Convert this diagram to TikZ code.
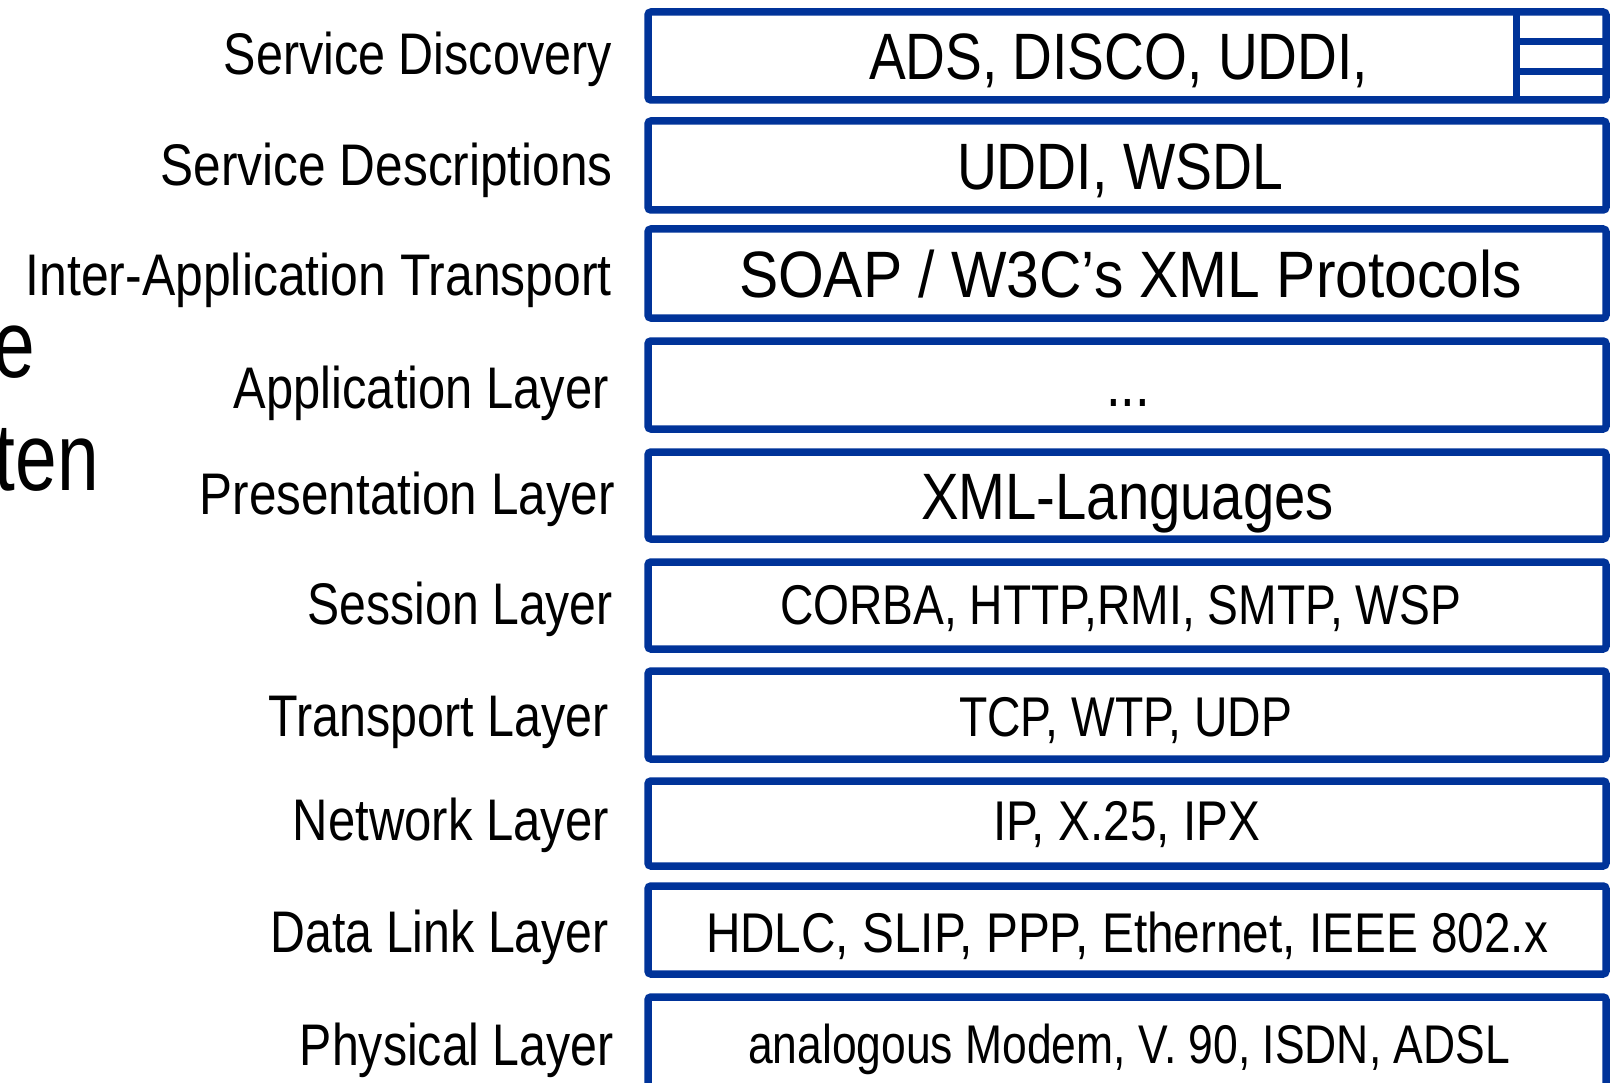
\documentclass[tikz,border=0pt]{standalone}
\usepackage{fontspec}
\setmainfont{Liberation Sans}
\usepackage{graphicx}
\definecolor{layerblue}{RGB}{0,51,153}
\newcommand{\fitw}[2]{\resizebox{#1pt}{\height}{#2}}
\tikzset{
  layerbox/.style={draw=layerblue, line width=7.5pt, rounded corners=3pt},
  divline/.style={draw=layerblue, line width=7pt},
  lbl/.style={anchor=base east, inner sep=0pt, font=\fontsize{58.7}{60}\selectfont},
  bigtxt/.style={anchor=base, inner sep=0pt, font=\fontsize{65.6}{68}\selectfont},
  smalltxt/.style={anchor=base, inner sep=0pt, font=\fontsize{56}{58}\selectfont},
  frag/.style={anchor=base east, inner sep=0pt, font=\fontsize{96}{98}\selectfont}
}
\begin{document}
\begin{tikzpicture}[x=1pt,y=-1pt]
\useasboundingbox (0,0) rectangle (1613,1083);
\clip (0,0) rectangle (1613,1083);
% boxes
\path[layerbox] (648,12) rectangle (1606,100);
\path[layerbox] (648,121) rectangle (1606,210);
\path[layerbox] (648,229) rectangle (1606,318);
\path[layerbox] (648,341) rectangle (1606,429);
\path[layerbox] (648,452) rectangle (1606,539);
\path[layerbox] (648,562) rectangle (1606,649);
\path[layerbox] (648,671) rectangle (1606,759);
\path[layerbox] (648,781) rectangle (1606,866);
\path[layerbox] (648,886) rectangle (1606,974);
\path[layerbox] (648,997) rectangle (1606,1120);
% divisions in first box
\coordinate (dt) at (1516.5,12);
\coordinate (db) at (1516.5,100);
\coordinate (h1a) at (1516.5,41.5);
\coordinate (h1b) at (1606,41.5);
\coordinate (h2a) at (1516.5,71.5);
\coordinate (h2b) at (1606,71.5);
\draw[divline] (dt) -- (db);
\draw[divline] (h1a) -- (h1b);
\draw[divline] (h2a) -- (h2b);
% left labels
\node[lbl] (l1) at (612,75) {\fitw{388}{Service Discovery}};
\node[lbl] (l2) at (613,186) {\fitw{452}{Service Descriptions}};
\node[lbl] (l3) at (612,295) {\fitw{586}{Inter-Application Transport}};
\node[lbl] (l4) at (609,408) {\fitw{375}{Application Layer}};
\node[lbl] (l5) at (615,514) {\fitw{415}{Presentation Layer}};
\node[lbl] (l6) at (613,624) {\fitw{305}{Session Layer}};
\node[lbl] (l7) at (609,736) {\fitw{340}{Transport Layer}};
\node[lbl] (l8) at (609,840) {\fitw{316}{Network Layer}};
\node[lbl] (l9) at (609,952) {\fitw{338}{Data Link Layer}};
\node[lbl] (l10) at (614,1065) {\fitw{314}{Physical Layer}};
% box texts
\node[bigtxt] (t1) at (1118.5,80) {\fitw{499}{ADS, DISCO, UDDI,}};
\node[bigtxt] (t2) at (1120,190) {\fitw{326}{UDDI, WSDL}};
\node[bigtxt] (t3) at (1130.5,298) {\fitw{783}{SOAP / W3C’s XML Protocols}};
\node[bigtxt] (t4) at (1128,406) {\fitw{44}{...}};
\node[bigtxt] (t5) at (1127.5,519) {\fitw{413}{XML-Languages}};
\node[smalltxt] (t6) at (1120.5,624) {\fitw{681}{CORBA, HTTP,RMI, SMTP, WSP}};
\node[smalltxt] (t7) at (1125.5,736) {\fitw{333}{TCP, WTP, UDP}};
\node[smalltxt] (t8) at (1126.5,840) {\fitw{267}{IP, X.25, IPX}};
\node[smalltxt] (t9) at (1127,952) {\fitw{842}{HDLC, SLIP, PPP, Ethernet, IEEE 802.x}};
\node[smalltxt, font=\fontsize{54.5}{56}\selectfont] (t10) at (1129,1063) {\fitw{762}{analogous Modem, V. 90, ISDN, ADSL}};
% cut-off fragments at the left edge
\node[frag] (f1) at (35,377) {\scalebox{0.78}[1]{e}};
\node[frag] (f2) at (99,490) {\scalebox{0.78}[1]{ten}};
\end{tikzpicture}
\end{document}
